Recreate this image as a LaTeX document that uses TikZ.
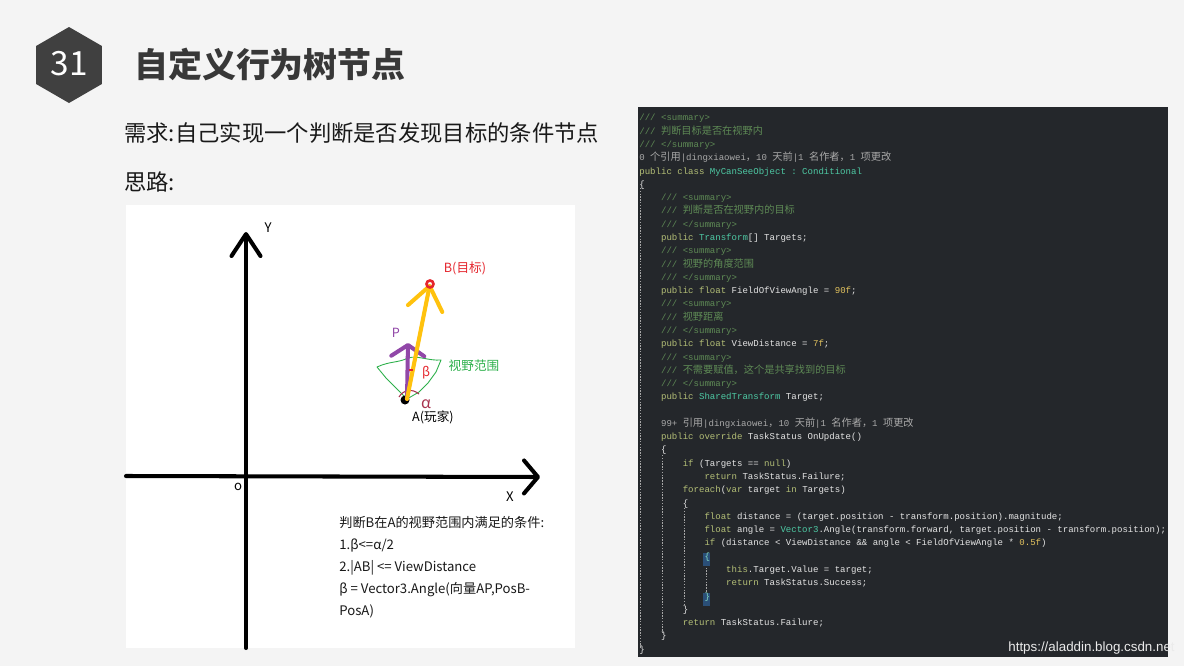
\documentclass[tikz,border=0pt]{standalone}
\usepackage{fontspec}
\setmainfont{Noto Sans CJK SC}
\setmonofont{Liberation Mono}
\newfontfamily\cjk{Noto Sans CJK SC}
\newfontfamily\urlfont{Liberation Sans}
\usetikzlibrary{arrows.meta,shapes.geometric}
\definecolor{slidebg}{HTML}{F4F4F4}
\definecolor{hexgray}{HTML}{404040}
\definecolor{titlegray}{HTML}{383838}
\definecolor{codebg}{HTML}{24272B}
\definecolor{kwc}{HTML}{B3BE76}
\definecolor{tyc}{HTML}{4EC9A4}
\definecolor{nmc}{HTML}{E4E4E4}
\definecolor{cmc}{HTML}{5E8A55}
\definecolor{numc}{HTML}{E2C25E}
\definecolor{refc}{HTML}{A9A9A9}
\definecolor{bracehl}{HTML}{2A4F78}
\definecolor{fovgreen}{HTML}{2DB04B}
\definecolor{tgtred}{HTML}{E5262E}
\definecolor{dirpurple}{HTML}{9147A8}
\definecolor{abyellow}{HTML}{FFC20E}
\definecolor{alphared}{HTML}{A8334F}
\newcommand{\ckw}[1]{\textcolor{kwc}{#1}}
\newcommand{\cty}[1]{\textcolor{tyc}{#1}}
\newcommand{\cnm}[1]{\textcolor{nmc}{#1}}
\newcommand{\ccm}[1]{\textcolor{cmc}{#1}}
\newcommand{\cnumv}[1]{\textcolor{numc}{#1}}
\newcommand{\crf}[1]{\textcolor{refc}{#1}}
\newcommand{\cjc}[1]{{\fontsize{5.8}{7.56}\cjk #1}}
\tikzset{
  axisline/.style={line width=2.3pt,black,line cap=round},
  vecline/.style={line width=2.3pt,line cap=round},
  fov/.style={fovgreen,line width=0.5pt,line join=round},
  axlbl/.style={font=\fontsize{7.5}{8}\selectfont,inner sep=1pt},
  lbl/.style={font=\fontsize{7.2}{8}\selectfont,inner sep=1pt},
  cond/.style={font=\fontsize{7.5}{12.5}\selectfont,align=left,inner sep=0pt,
    text=black!90},
  badgetxt/.style={font=\fontsize{19}{20}\selectfont,text=white,inner sep=0pt},
  titletxt/.style={font=\fontsize{19.3}{21}\selectfont\bfseries,text=titlegray,
    inner sep=0pt},
  subtxt/.style={font=\fontsize{12.7}{14}\selectfont,text=black!90,inner sep=0pt},
  codetext/.style={font=\fontsize{5.15}{7.56}\selectfont\ttfamily,align=left,
    inner sep=0pt,text=nmc},
  guide/.style={gray!70,line width=0.4pt,dash pattern=on 0.8pt off 0.8pt},
  wmark/.style={font=\fontsize{7.6}{8}\selectfont\urlfont,text=white!92!black,
    inner sep=0pt},
}
\begin{document}
\begin{tikzpicture}[x=0.02cm,y=-0.02cm]
  \useasboundingbox (0,0) rectangle (1184,666);
  \fill[slidebg] (0,0) rectangle (1184,666);

  \fill[hexgray] (69,65) +(90:38) \foreach \a in {150,210,...,390}{ -- +(\a:38)} -- cycle;
  \node[badgetxt] (badge) at (69,64) {31};
  \node[titletxt,anchor=west] (title) at (134,64) {自定义行为树节点};
  \node[subtxt,anchor=west] (need) at (124,133) {需求:自己实现一个判断是否发现目标的条件节点};
  \node[subtxt,anchor=west] (idea) at (124,182) {思路:};

  % sketch panel
  \fill[white] (126,205) rectangle (575,648);
  \coordinate (ybot) at (246,648);
  \coordinate (ytip) at (246,232);
  \coordinate (xleft) at (126,476);
  \coordinate (xtip) at (540,477);
  \draw[axisline,-{Straight Barb[round,length=4.4mm,width=5.8mm]}] (ybot) -- (ytip);
  \draw[axisline,-{Straight Barb[round,length=2.8mm,width=6.6mm]}] (xleft) -- (xtip);
  \node[axlbl] (ylbl) at (268,228) {Y};
  \node[axlbl] (olbl) at (238,487) {o};
  \node[axlbl] (xlbl) at (510,497) {X};

  \coordinate (A) at (407,399);
  \coordinate (B) at (430,284);
  \coordinate (P) at (408,343);
  \draw[fov] (A) -- (397,389) -- (386,378) -- (377,367)
    .. controls (390,361) and (398,363) .. (408,358)
    .. controls (418,355) and (428,361) .. (441,360)
    -- (436,372) -- (428,383) -- (419,392) -- (A);
  \fill[black] (405,400) circle (4.5);
  \draw[alphared,line width=0.6pt] (399,397) .. controls (403,390) and (412,388) .. (419,394);
  \draw[vecline,dirpurple,-{Straight Barb[round,length=2.2mm,width=6.6mm]}] (A) -- (P);
  \draw[vecline,abyellow,-{Straight Barb[round,length=4.6mm,width=7mm]}] (A) -- (B);
  \draw[tgtred,line width=1.5pt] (B) circle (3.5);
  \draw[tgtred,line width=0.6pt] (409,370) -- (413,370);
  \node[lbl,text=tgtred] (blbl) at (465,268) {B(目标)};
  \node[lbl,text=dirpurple] (plbl) at (396,333) {P};
  \node[lbl,text=fovgreen] (fovlbl) at (474,366) {视野范围};
  \node[lbl,text=tgtred] (betalbl) at (426,373) {β};
  \node[lbl,text=alphared,font=\fontsize{9}{9}\selectfont] (alphalbl) at (426,404) {α};
  \node[lbl] (alabel) at (433,417) {A(玩家)};
  \node[cond,anchor=north west] (cond) at (339,516) {判断B在A的视野范围内满足的条件:\\
    1.β<=α/2\\
    2.|AB| <= ViewDistance\\
    β = Vector3.Angle(向量AP,PosB-\\
    PosA)};

  % code panel
  \fill[codebg] (638,107) rectangle (1168,657);
  \draw[guide] (640,188) -- (640,648);
  \draw[guide] (662,455) -- (662,633);
  \draw[guide] (684,508) -- (684,606);
  \draw[guide] (706,562) -- (706,592);
  \fill[bracehl] (703,553) rectangle (710,566);
  \fill[bracehl] (703,593) rectangle (710,606);
  \node[codetext,anchor=north west] (code) at (639,114) {%
    \ccm{/// <summary>}\\
    \ccm{/// \cjc{判断目标是否在视野内}}\\
    \ccm{/// </summary>}\\
    \crf{0 \cjc{个引用}|dingxiaowei\cjc{，}10 \cjc{天前}|1 \cjc{名作者，}1 \cjc{项更改}}\\
    \ckw{public class} \cty{MyCanSeeObject : Conditional}\\
    \cnm{\{}\\
    ~~~~\ccm{/// <summary>}\\
    ~~~~\ccm{/// \cjc{判断是否在视野内的目标}}\\
    ~~~~\ccm{/// </summary>}\\
    ~~~~\ckw{public} \cty{Transform}\cnm{[] Targets;}\\
    ~~~~\ccm{/// <summary>}\\
    ~~~~\ccm{/// \cjc{视野的角度范围}}\\
    ~~~~\ccm{/// </summary>}\\
    ~~~~\ckw{public float} \cnm{FieldOfViewAngle =} \cnumv{90f}\cnm{;}\\
    ~~~~\ccm{/// <summary>}\\
    ~~~~\ccm{/// \cjc{视野距离}}\\
    ~~~~\ccm{/// </summary>}\\
    ~~~~\ckw{public float} \cnm{ViewDistance =} \cnumv{7f}\cnm{;}\\
    ~~~~\ccm{/// <summary>}\\
    ~~~~\ccm{/// \cjc{不需要赋值，这个是共享找到的目标}}\\
    ~~~~\ccm{/// </summary>}\\
    ~~~~\ckw{public} \cty{SharedTransform} \cnm{Target;}\\
    \mbox{}\\
    ~~~~\crf{99+ \cjc{引用}|dingxiaowei\cjc{，}10 \cjc{天前}|1 \cjc{名作者，}1 \cjc{项更改}}\\
    ~~~~\ckw{public override} \cnm{TaskStatus OnUpdate()}\\
    ~~~~\cnm{\{}\\
    ~~~~~~~~\ckw{if} \cnm{(Targets ==} \ckw{null}\cnm{)}\\
    ~~~~~~~~~~~~\ckw{return} \cnm{TaskStatus.Failure;}\\
    ~~~~~~~~\ckw{foreach}\cnm{(}\ckw{var} \cnm{target} \ckw{in} \cnm{Targets)}\\
    ~~~~~~~~\cnm{\{}\\
    ~~~~~~~~~~~~\ckw{float} \cnm{distance = (target.position - transform.position).magnitude;}\\
    ~~~~~~~~~~~~\ckw{float} \cnm{angle =} \cty{Vector3}\cnm{.Angle(transform.forward, target.position - transform.position);}\\
    ~~~~~~~~~~~~\ckw{if} \cnm{(distance < ViewDistance \&\& angle < FieldOfViewAngle *} \cnumv{0.5f}\cnm{)}\\
    ~~~~~~~~~~~~\textcolor{tyc!70!white}{\{}\\
    ~~~~~~~~~~~~~~~~\ckw{this}\cnm{.Target.Value = target;}\\
    ~~~~~~~~~~~~~~~~\ckw{return} \cnm{TaskStatus.Success;}\\
    ~~~~~~~~~~~~\textcolor{tyc!70!white}{\}}\\
    ~~~~~~~~\cnm{\}}\\
    ~~~~~~~~\ckw{return} \cnm{TaskStatus.Failure;}\\
    ~~~~\cnm{\}}\\
    \cnm{\}}};
  \node[wmark,anchor=east] (wm) at (1175,648) {https://aladdin.blog.csdn.net};
\end{tikzpicture}
\end{document}
